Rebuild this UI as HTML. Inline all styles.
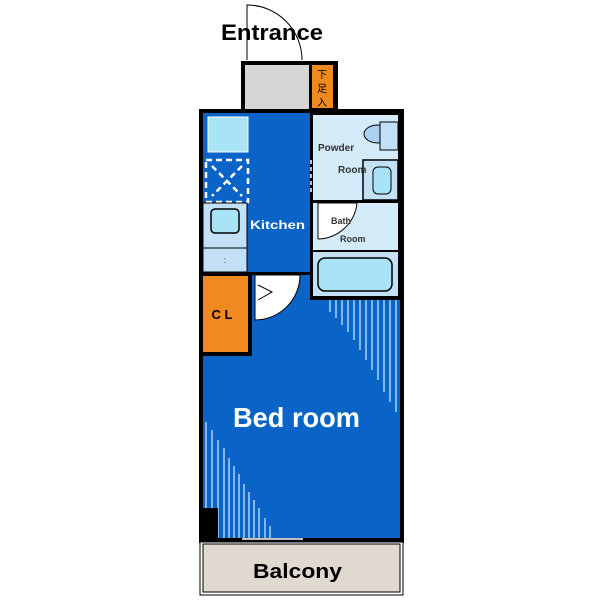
<!DOCTYPE html>
<html><head><style>body{margin:0;background:#fff}svg{display:block}</style></head><body>
<svg width="600" height="600" viewBox="0 0 600 600" xmlns="http://www.w3.org/2000/svg" font-family="Liberation Sans, sans-serif">
<path d="M247 60 L247 5 A55 55 0 0 1 302 60" fill="#fff" stroke="#000" stroke-width="1"/>
<text x="221" y="40" font-size="22" font-weight="bold" fill="#000" textLength="102" lengthAdjust="spacingAndGlyphs">Entrance</text>
<rect x="241" y="61" width="97" height="50" fill="#000"/>
<rect x="245" y="65" width="64" height="44" fill="#d6d6d6"/>
<rect x="312" y="65" width="21" height="43" fill="#f08a1e"/>
<text x="322" y="78" font-size="10" text-anchor="middle" fill="#000">下</text>
<text x="322" y="92" font-size="10" text-anchor="middle" fill="#000">足</text>
<text x="322" y="106" font-size="10" text-anchor="middle" fill="#000">入</text>
<rect x="199" y="109" width="205" height="434" fill="#000"/>
<rect x="203" y="113" width="197" height="425" fill="#0a63c7"/>
<rect x="310" y="113" width="90" height="187" fill="#000"/>
<rect x="313" y="115" width="85" height="85" fill="#d4ebfa"/>
<rect x="313" y="203" width="85" height="47" fill="#d4ebfa"/>
<rect x="313" y="252" width="85" height="44" fill="#c4e0f6"/>
<rect x="318" y="258" width="74" height="33" rx="7" fill="#a8e4f6" stroke="#000" stroke-width="1.5"/>
<ellipse cx="378" cy="134" rx="14" ry="9" fill="#a9d2f2" stroke="#000" stroke-width="1"/>
<rect x="380" y="122" width="18" height="28" fill="#c4e0f6" stroke="#000" stroke-width="1"/>
<rect x="363" y="160" width="35" height="40" fill="#c4e0f6" stroke="#000" stroke-width="1.5"/>
<rect x="373" y="167" width="18" height="27" rx="5" fill="#a8e4f6" stroke="#000" stroke-width="1"/>
<text x="318" y="151" font-size="10" font-weight="bold" fill="#333">Powder</text>
<text x="338" y="173" font-size="10" font-weight="bold" fill="#333">Room</text>
<path d="M318 239 L318 203 L357 203 A40 40 0 0 1 318 239" fill="#fff" stroke="#000" stroke-width="1"/>
<text x="331" y="224" font-size="9" font-weight="bold" fill="#333">Bath</text>
<text x="340" y="242" font-size="9" font-weight="bold" fill="#333">Room</text>
<line x1="311" y1="160" x2="311" y2="195" stroke="#fff" stroke-width="1.5" stroke-dasharray="4,3"/>
<rect x="203" y="113" width="45" height="44" fill="#0a63c7"/>
<rect x="208" y="117" width="40" height="35" fill="#a8e4f6" stroke="#fff" stroke-width="1"/>
<rect x="206" y="160" width="42" height="42" fill="none" stroke="#fff" stroke-width="2.5" stroke-dasharray="6,4"/>
<path d="M212 166 L242 196 M242 166 L212 196" stroke="#fff" stroke-width="2.5" stroke-dasharray="6,4"/>
<rect x="203" y="203" width="44" height="45" fill="#c4e0f6" stroke="#000" stroke-width="1"/>
<rect x="211" y="209" width="28" height="24" rx="4" fill="#a8e4f6" stroke="#000" stroke-width="1.5"/>
<rect x="203" y="248" width="44" height="24" fill="#c4e0f6" stroke="#000" stroke-width="1"/>
<text x="225" y="263" font-size="8" text-anchor="middle" fill="#000">:</text>
<text x="250" y="229" font-size="12" font-weight="bold" fill="#fff" textLength="55" lengthAdjust="spacingAndGlyphs">Kitchen</text>
<rect x="203" y="272" width="107" height="3" fill="#000"/>
<rect x="203" y="275" width="49" height="81" fill="#000"/>
<rect x="203" y="276" width="45" height="76" fill="#f08a1e"/>
<text x="222" y="319" font-size="13" font-weight="bold" text-anchor="middle" fill="#000">C L</text>
<path d="M255 275 L300 275 A45 45 0 0 1 255 320 Z" fill="#fff" stroke="#000" stroke-width="1"/>
<path d="M258 285 L272 292 L258 300" fill="none" stroke="#000" stroke-width="1"/>
<g stroke="#bfe6ff" stroke-width="1.3">
<line x1="330" y1="300" x2="330" y2="312"/><line x1="336" y1="300" x2="336" y2="318"/><line x1="342" y1="300" x2="342" y2="325"/><line x1="348" y1="300" x2="348" y2="332"/><line x1="354" y1="300" x2="354" y2="340"/><line x1="360" y1="300" x2="360" y2="350"/><line x1="366" y1="300" x2="366" y2="360"/><line x1="372" y1="300" x2="372" y2="370"/><line x1="378" y1="300" x2="378" y2="380"/><line x1="384" y1="300" x2="384" y2="392"/><line x1="390" y1="300" x2="390" y2="402"/><line x1="396" y1="300" x2="396" y2="412"/>
<line x1="206" y1="422" x2="206" y2="538"/><line x1="212" y1="430" x2="212" y2="538"/><line x1="218" y1="440" x2="218" y2="538"/><line x1="224" y1="448" x2="224" y2="538"/><line x1="229" y1="458" x2="229" y2="538"/><line x1="234" y1="466" x2="234" y2="538"/><line x1="239" y1="474" x2="239" y2="538"/><line x1="244" y1="484" x2="244" y2="538"/><line x1="249" y1="492" x2="249" y2="538"/><line x1="254" y1="500" x2="254" y2="538"/><line x1="259" y1="508" x2="259" y2="538"/><line x1="265" y1="518" x2="265" y2="538"/><line x1="270" y1="526" x2="270" y2="538"/>
</g>
<rect x="200" y="508" width="18" height="32" fill="#000"/>
<text x="233" y="427" font-size="28" font-weight="bold" fill="#fff" textLength="127" lengthAdjust="spacingAndGlyphs">Bed room</text>
<line x1="242" y1="539" x2="303" y2="539" stroke="#fff" stroke-width="1.5"/>
<rect x="200" y="542" width="203" height="53" fill="#fff" stroke="#000" stroke-width="1"/>
<rect x="203" y="544" width="197" height="48" fill="#e0d9d0" stroke="#000" stroke-width="1"/>
<text x="253" y="578" font-size="20" font-weight="bold" fill="#000" textLength="89" lengthAdjust="spacingAndGlyphs">Balcony</text>
</svg>
</body></html>
